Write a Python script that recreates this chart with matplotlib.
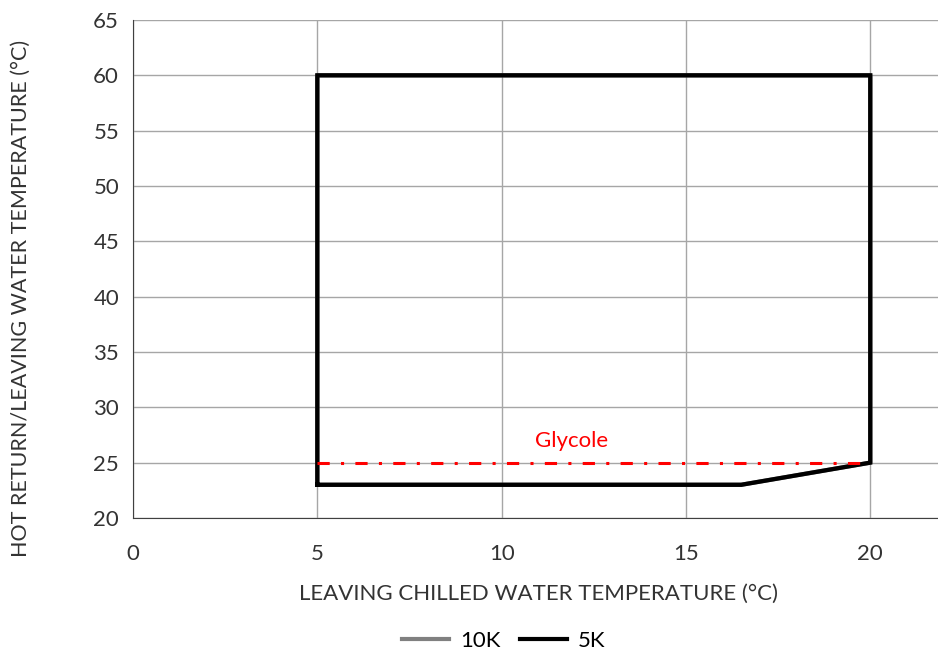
import matplotlib.pyplot as plt
from matplotlib.lines import Line2D

plt.rcParams['font.family'] = ['Lato', 'DejaVu Sans']
fontsize = 16

# operating envelope (leaving chilled water, hot return/leaving water)
env_x = [5, 16.5, 20, 20, 5, 5]
env_y = [23, 23, 25, 60, 60, 23]
env_10k_x = [5, 16.5, 20, 20, 5, 5]
env_10k_y = [23, 23, 25, 60, 60, 23]

glycole_x = [5, 20]
glycole_y = [25, 25]

xticks = [0, 5, 10, 15, 20]
yticks = [20, 25, 30, 35, 40, 45, 50, 55, 60, 65]

fig = plt.figure(figsize=(9.38, 6.58), dpi=100)
ax = fig.add_axes([0.1418, 0.2128, 0.8646, 0.7568])

ax.plot(env_10k_x, env_10k_y, color='#808080', lw=3, zorder=2)
ax.plot(env_x, env_y, color='black', lw=3.1, zorder=3, solid_joinstyle='miter')
ax.plot(glycole_x, glycole_y, color='#ff0000', lw=2.2, linestyle=(0, (4, 3.7, 1, 3.7)), zorder=4)
ax.text(11.9, 27.0, 'Glycole', color='#ff0000', fontsize=16, ha='center', va='center')

ax.set_xlim(0, 22)
ax.set_ylim(20, 65)
ax.set_xticks(xticks)
ax.set_yticks(yticks)
ax.grid(True, color='#a6a6a6', lw=1)
ax.set_axisbelow(True)
for s in ['top', 'right']:
    ax.spines[s].set_visible(False)
ax.spines['left'].set_color('#404040')
ax.spines['bottom'].set_color('#404040')
ax.tick_params(length=0, labelsize=fontsize, colors='#333333')
ax.tick_params(axis='x', pad=19)
ax.tick_params(axis='y', pad=10)

ax.set_xlabel('LEAVING CHILLED WATER TEMPERATURE (°C)', fontsize=fontsize, color='#333333')
ax.xaxis.set_label_coords(0.5, -0.132)
ax.set_ylabel('HOT RETURN/LEAVING WATER TEMPERATURE (°C)', fontsize=15.5, color='#333333')
ax.yaxis.set_label_coords(-0.126, 0.44)

handles = [Line2D([0], [0], color='#808080', lw=3, label='10K'),
           Line2D([0], [0], color='black', lw=3, label='5K')]
fig.legend(handles=handles, loc='center', bbox_to_anchor=(0.537, 0.026), ncol=2,
           frameon=False, fontsize=fontsize, handlelength=2.1, handletextpad=0.5,
           columnspacing=0.9)

plt.savefig('out.png', dpi=100)
